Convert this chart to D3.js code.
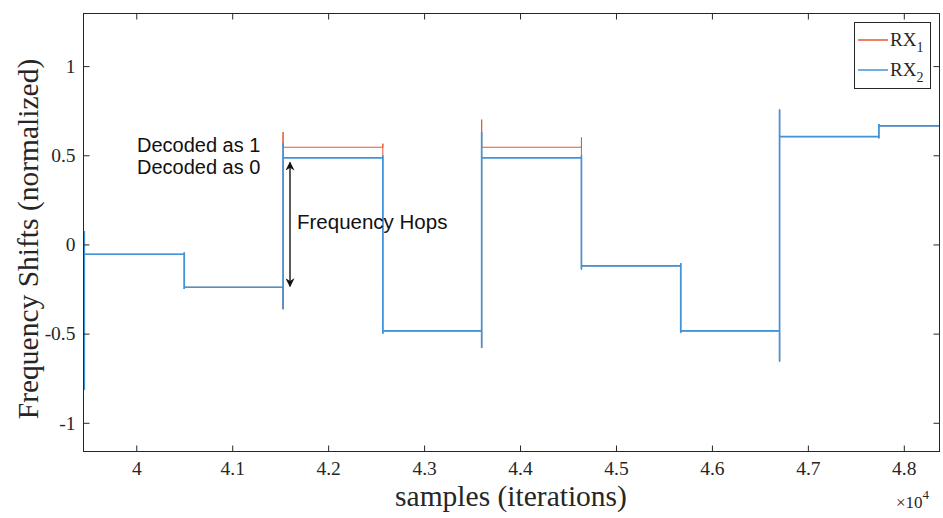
<!DOCTYPE html>
<html>
<head>
<meta charset="utf-8">
<script src="https://cdn.jsdelivr.net/npm/d3@7/dist/d3.min.js"></script>
<style>
  html, body { margin: 0; padding: 0; background: #fff; }
  svg { display: block; }
</style>
</head>
<body>
<svg id="chart" width="943" height="518"></svg>
<script>
// ---- data (samples, normalized frequency shift) ----
const xTicks = [40000, 41000, 42000, 43000, 44000, 45000, 46000, 47000, 48000];
const xTickLabels = ["4", "4.1", "4.2", "4.3", "4.4", "4.5", "4.6", "4.7", "4.8"];
const yTicks = [-1, -0.5, 0, 0.5, 1];
const yTickLabels = ["-1", "-0.5", "0", "0.5", "1"];

// sample index where each hop (level change) occurs
const hopSamples = [39458, 40500, 41530, 42570, 43600, 44640, 45675, 46705, 47740];
const endSample = 48380;

// plateau levels after each hop
const rx1Levels = [-0.055, -0.24, 0.545, -0.485, 0.545, -0.12, -0.485, 0.605, 0.665];
const rx2Levels = [-0.055, -0.24, 0.485, -0.485, 0.485, -0.12, -0.485, 0.605, 0.665];

// transient extremes at each hop
const rx1SpikeHigh = [0.075, -0.045, 0.63, 0.565, 0.70, 0.60, -0.105, 0.757, 0.675];
const rx1SpikeLow  = [-0.815, -0.25, -0.365, -0.50, -0.58, -0.14, -0.495, -0.657, 0.595];
const rx2SpikeHigh = [0.075, -0.045, 0.567, 0.50, 0.63, 0.50, -0.105, 0.757, 0.675];
const rx2SpikeLow  = [-0.815, -0.25, -0.36, -0.50, -0.58, -0.14, -0.495, -0.657, 0.595];

const seriesNames = ["RX", "RX"];
const seriesSubs = ["1", "2"];
const seriesColors = ["#e4572e", "#3f94da"];

// ---- layout ----
const svg = d3.select("#chart");
const mLeft = 83.5, mRight = 939.5, mTop = 13.5, mBottom = 451.5;
const x = d3.scaleLinear().domain([39450, 48372]).range([mLeft, mRight]);
const y = d3.scaleLinear().domain([-1.161, 1.295]).range([mBottom, mTop]);

const axisColor = "#262626";
const serif = "'Liberation Serif', 'Times New Roman', serif";
const sans = "'Liberation Sans', Arial, Helvetica, sans-serif";

// build step path points with transients
function buildPoints(levels, hi, lo) {
  const pts = [];
  for (let i = 0; i < hopSamples.length; i++) {
    const s = hopSamples[i];
    const newL = levels[i];
    const prevL = i === 0 ? null : levels[i - 1];
    if (prevL !== null) pts.push([s, prevL]);
    const goingUp = prevL === null ? false : newL > prevL;
    if (goingUp) { pts.push([s, lo[i]]); pts.push([s, hi[i]]); }
    else { pts.push([s, hi[i]]); pts.push([s, lo[i]]); }
    pts.push([s, newL]);
  }
  pts.push([endSample, levels[levels.length - 1]]);
  return pts;
}

const clipId = "plotclip";
svg.append("clipPath").attr("id", clipId).append("rect")
  .attr("x", mLeft).attr("y", mTop).attr("width", mRight - mLeft).attr("height", mBottom - mTop);

const line = d3.line().x(d => x(d[0])).y(d => y(d[1]));
const g = svg.append("g").attr("clip-path", `url(#${clipId})`);
g.append("path").datum(buildPoints(rx1Levels, rx1SpikeHigh, rx1SpikeLow))
  .attr("d", line).attr("fill", "none").attr("stroke", seriesColors[0]).attr("stroke-width", 1.0);
g.append("path").datum(buildPoints(rx2Levels, rx2SpikeHigh, rx2SpikeLow))
  .attr("d", line).attr("fill", "none").attr("stroke", seriesColors[1]).attr("stroke-width", 1.7);

// ---- axes ----
const tickLen = 6;
const xAxisB = d3.axisBottom(x).tickValues(xTicks).tickFormat((d, i) => xTickLabels[i]).tickSizeInner(-tickLen).tickSizeOuter(0).tickPadding(10);
const xAxisT = d3.axisTop(x).tickValues(xTicks).tickFormat("").tickSizeInner(-tickLen).tickSizeOuter(0);
const yAxisL = d3.axisLeft(y).tickValues(yTicks).tickFormat((d, i) => yTickLabels[i]).tickSizeInner(-tickLen).tickSizeOuter(0).tickPadding(8);
const yAxisR = d3.axisRight(y).tickValues(yTicks).tickFormat("").tickSizeInner(-tickLen).tickSizeOuter(0);

function styleAxis(sel) {
  sel.select(".domain").remove();
  sel.selectAll("line").attr("stroke", axisColor).attr("stroke-width", 1);
  sel.selectAll("text").attr("fill", axisColor).attr("font-family", serif).attr("font-size", 19.5);
}
svg.append("g").attr("transform", `translate(0,${mBottom})`).call(xAxisB).call(styleAxis);
svg.append("g").attr("transform", `translate(0,${mTop})`).call(xAxisT).call(styleAxis);
svg.append("g").attr("transform", `translate(${mLeft},0)`).call(yAxisL).call(styleAxis);
svg.append("g").attr("transform", `translate(${mRight},0)`).call(yAxisR).call(styleAxis);

svg.append("rect").attr("x", mLeft).attr("y", mTop).attr("width", mRight - mLeft).attr("height", mBottom - mTop)
  .attr("fill", "none").attr("stroke", axisColor).attr("stroke-width", 1);

// axis labels
svg.append("text").attr("x", 511).attr("y", 506).attr("text-anchor", "middle")
  .attr("font-family", serif).attr("font-size", 29.5).attr("fill", axisColor).text("samples (iterations)");
svg.append("text").attr("transform", `translate(38,239) rotate(-90)`).attr("text-anchor", "middle")
  .attr("font-family", serif).attr("font-size", 29.5).attr("fill", axisColor).text("Frequency Shifts (normalized)");

// exponent
const ex = svg.append("text").attr("x", 896).attr("y", 508).attr("font-family", serif).attr("font-size", 17).attr("fill", axisColor);
ex.append("tspan").text("\u00d710");
ex.append("tspan").attr("dy", -9).attr("font-size", 13).text("4");

// ---- annotations ----
svg.append("text").attr("x", 137).attr("y", 152).attr("font-family", sans).attr("font-size", 20).attr("fill", "#111").text("Decoded as 1");
svg.append("text").attr("x", 137).attr("y", 174).attr("font-family", sans).attr("font-size", 20).attr("fill", "#111").text("Decoded as 0");
svg.append("text").attr("x", 297).attr("y", 229).attr("font-family", sans).attr("font-size", 20.5).attr("fill", "#111").text("Frequency Hops");

const defs = svg.append("defs");
defs.append("marker").attr("id", "ah").attr("viewBox", "0 0 10 10").attr("refX", 9).attr("refY", 5)
  .attr("markerWidth", 11).attr("markerHeight", 9).attr("orient", "auto-start-reverse").attr("markerUnits", "userSpaceOnUse")
  .append("path").attr("d", "M0,0 L10,5 L0,10 L3,5 Z").attr("fill", "#111");
svg.append("line").attr("x1", 290).attr("x2", 290).attr("y1", y(0.46)).attr("y2", y(-0.235))
  .attr("stroke", "#333").attr("stroke-width", 1.6)
  .attr("marker-start", "url(#ah)").attr("marker-end", "url(#ah)");

// ---- legend ----
const lg = svg.append("g");
lg.append("rect").attr("x", 854.5).attr("y", 22.5).attr("width", 76).attr("height", 66)
  .attr("fill", "#fff").attr("stroke", axisColor).attr("stroke-width", 1);
[0, 1].forEach(i => {
  const yy = 40 + i * 30;
  lg.append("line").attr("x1", 858).attr("x2", 888).attr("y1", yy).attr("y2", yy)
    .attr("stroke", seriesColors[i]).attr("stroke-width", 1.5);
  const t = lg.append("text").attr("x", 890).attr("y", yy + 6).attr("font-family", serif).attr("font-size", 19).attr("fill", axisColor);
  t.append("tspan").text(seriesNames[i]);
  t.append("tspan").attr("dy", 6).attr("font-size", 14).text(seriesSubs[i]);
});
</script>
</body>
</html>
